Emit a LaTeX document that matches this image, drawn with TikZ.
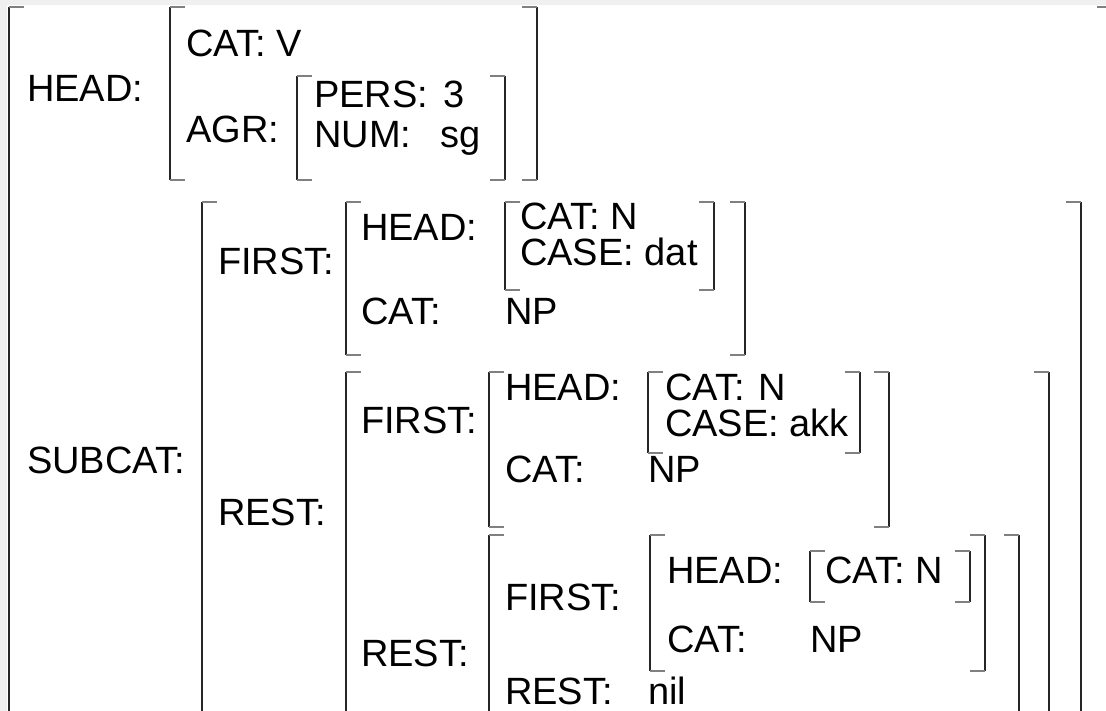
\documentclass[tikz,border=0pt]{standalone}
\usepackage{fontspec}
\setmainfont{Liberation Sans}
\usepackage{tikz}
\tikzset{every picture/.style={x=1pt,y=-1pt}}
\tikzset{lbl/.style = {anchor=base west, inner sep=0pt, text depth=0pt, font=\fontsize{38}{42}\selectfont}}
\tikzset{bar/.style = {line width=1.5pt, black!85}}
\tikzset{tick/.style = {line width=1.5pt, black!50}}
\newcommand{\avmbrackets}[4]{%
  \draw[bar] (#1,#3) -- (#1,#4) (#2,#3) -- (#2,#4);
  \draw[tick] (#1,#3) -- ++(15,0) (#1,#4) -- ++(15,0) (#2,#3) -- ++(-15,0) (#2,#4) -- ++(-15,0);}

\begin{document}
\begin{tikzpicture}
\useasboundingbox (0,0) rectangle (1106,711);
\fill[black!6] (0,0) rectangle (1106,711);
\fill[white] (7,5) rectangle (1106,711);
\clip (0,0) rectangle (1106,711);
%
\node[lbl] (head) at (27,102) {HEAD:};
\node[lbl] (hcat) at (186,57) {CAT: V};
\node[lbl] (agr) at (186,143) {AGR:};
\node[lbl] (pers) at (314,108) {PERS:};
\node[lbl] (persv) at (443,108) {3};
\node[lbl] (num) at (314,148) {NUM:};
\node[lbl] (numv) at (440,148) {sg};
%
\node[lbl] (subcat) at (27,473) {SUBCAT:};
\node[lbl] (first) at (218,275) {FIRST:};
\node[lbl] (fhead) at (361,241) {HEAD:};
\node[lbl] (fcat) at (520,230) {CAT: N};
\node[lbl] (fcase) at (520,266) {CASE: dat};
\node[lbl] (fcatnp) at (361,325) {CAT:};
\node[lbl] (fnp) at (505,325) {NP};
%
\node[lbl] (rest) at (218,525) {REST:};
\node[lbl] (rfirst) at (361,433) {FIRST:};
\node[lbl] (rfhead) at (505,400) {HEAD:};
\node[lbl] (rfcat) at (665,400) {CAT:};
\node[lbl] (rfn) at (758,400) {N};
\node[lbl] (rfcase) at (665,436) {CASE: akk};
\node[lbl] (rfcatnp) at (505,482) {CAT:};
\node[lbl] (rfnp) at (648,482) {NP};
%
\node[lbl] (rrest) at (361,666) {REST:};
\node[lbl] (rrfirst) at (505,610) {FIRST:};
\node[lbl] (rrfhead) at (667,583) {HEAD:};
\node[lbl] (rrfcat) at (825,583) {CAT: N};
\node[lbl] (rrfcatnp) at (667,652) {CAT:};
\node[lbl] (rrfnp) at (810,652) {NP};
\node[lbl] (rrrest) at (505,704) {REST:};
\node[lbl] (nil) at (648,704) {nil};
%
\avmbrackets{9}{1112}{7}{760}
\avmbrackets{170}{537}{7}{180}
\avmbrackets{297}{505}{76}{180}
\avmbrackets{202}{1081}{202}{760}
\avmbrackets{346}{745}{202}{355}
\avmbrackets{505}{714}{202}{290}
\avmbrackets{346}{1049}{372}{760}
\avmbrackets{489}{889}{372}{527}
\avmbrackets{648}{860}{372}{453}
\avmbrackets{489}{1019}{535}{760}
\avmbrackets{650}{985}{535}{671}
\avmbrackets{810}{970}{551}{602}
\end{tikzpicture}
\end{document}
